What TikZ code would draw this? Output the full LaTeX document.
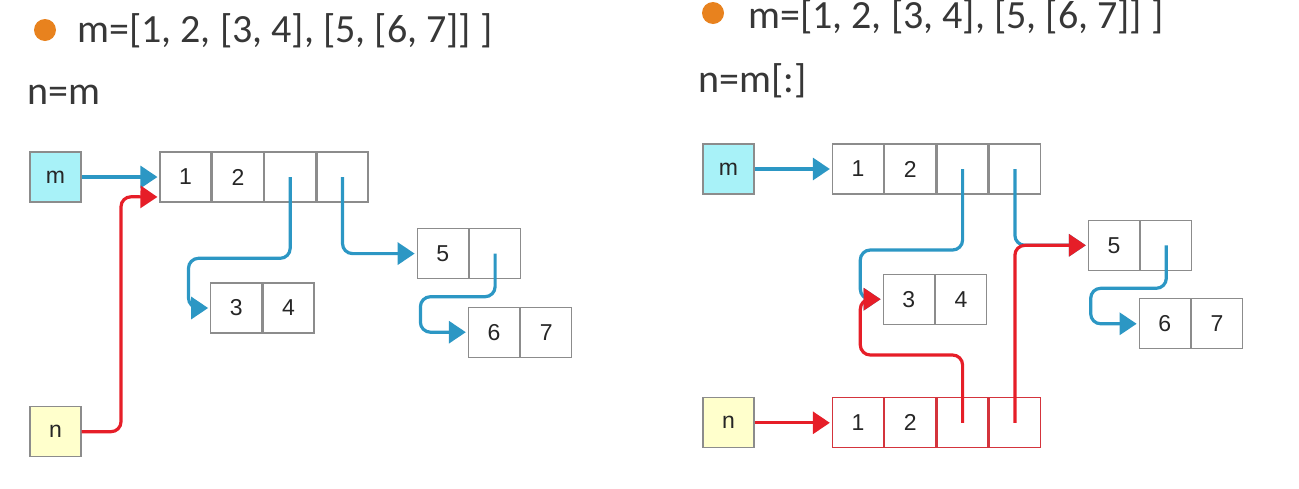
\documentclass[tikz,border=0pt]{standalone}
\usepackage{fontspec}
\usepackage{tikz}
\usetikzlibrary{arrows.meta,positioning}
\setmainfont{Carlito}
\newfontfamily\cellfont{Liberation Sans}
\definecolor{PtrBlue}{RGB}{44,151,196}
\definecolor{PtrRed}{RGB}{230,30,40}
\definecolor{CellGray}{RGB}{140,140,140}
\definecolor{VarCyan}{RGB}{168,242,248}
\definecolor{VarYellow}{RGB}{255,255,204}
\definecolor{BulletOrange}{RGB}{232,130,30}
\definecolor{TextDark}{RGB}{55,55,55}
\tikzset{
  cell/.style={draw=CellGray, line width=1.3pt, minimum width=51pt, minimum height=50pt, inner sep=0pt, font=\cellfont\fontsize{23}{27}\selectfont, text=black!85},
  redcell/.style={cell, draw=PtrRed!80!CellGray},
  head/.style={anchor=base west, inner sep=0pt, text=TextDark, font=\fontsize{40}{44}\selectfont},
  ptr/.style={-{Triangle[length=17pt,width=22pt]}, line width=3.2pt, rounded corners=10pt, shorten >=2pt},
}
\begin{document}
\begin{tikzpicture}[x=1pt, y=-1pt, node distance=0pt]
  \useasboundingbox (0,0) rectangle (1299,488);
  % left: n=m
  \fill[BulletOrange] (45,30) circle (11);
  \node[head] (titleL) at (77,42) {m=[1, 2, [3, 4], [5, [6, 7]] ]};
  \node[head] (assignL) at (27,104) {n=m};
  \node[cell, fill=VarCyan] (mL) at (55.4,177) {m};
  \node[cell, fill=VarYellow] (nL) at (55.4,431.7) {n};
  \node[cell] (a1) at (185.6,177) {1};
  \node[cell, right=of a1] (a2) {2};
  \node[cell, right=of a2] (a3) {};
  \node[cell, right=of a3] (a4) {};
  \node[cell] (b1) at (236.3,308) {3};
  \node[cell, right=of b1] (b2) {4};
  \node[cell] (d1) at (442.8,253.6) {5};
  \node[cell, right=of d1] (d2) {};
  \node[cell] (e1) at (494,332.2) {6};
  \node[cell, right=of e1] (e2) {7};
  \draw[ptr, PtrBlue] (mL.east) -- (a1.west);
  \draw[ptr, PtrRed] (nL.east) -| (121,196.7) -- ([yshift=-20pt]a1.west);
  \draw[ptr, PtrBlue] (a3.center) |- (188.5,258.3) |- (b1.west);
  \draw[ptr, PtrBlue] (a4.center) |- (d1.west);
  \draw[ptr, PtrBlue] (d2.center) |- (420.4,296.7) |- (e1.west);
  % right: n=m[:]
  \fill[BulletOrange] (713,13) circle (11);
  \node[head] (titleR) at (748,28) {m=[1, 2, [3, 4], [5, [6, 7]] ]};
  \node[head] (assignR) at (698,92) {n=m[:]};
  \node[cell, fill=VarCyan] (mR) at (728.5,169) {m};
  \node[cell, fill=VarYellow] (nR) at (728.5,422.8) {n};
  \node[cell] (p1) at (858,169) {1};
  \node[cell, right=of p1] (p2) {2};
  \node[cell, right=of p2] (p3) {};
  \node[cell, right=of p3] (p4) {};
  \node[redcell] (c1) at (858,422.8) {1};
  \node[redcell, right=of c1] (c2) {2};
  \node[redcell, right=of c2] (c3) {};
  \node[redcell, right=of c3] (c4) {};
  \node[cell] (q1) at (908.8,299.2) {3};
  \node[cell, right=of q1] (q2) {4};
  \node[cell] (r1) at (1114,245.3) {5};
  \node[cell, right=of r1] (r2) {};
  \node[cell] (s1) at (1164.8,323.8) {6};
  \node[cell, right=of s1] (s2) {7};
  \draw[ptr, PtrBlue] (mR.east) -- (p1.west);
  \draw[ptr, PtrRed] (nR.east) -- (c1.west);
  \draw[ptr, PtrBlue] (p3.center) |- (860.3,250) |- (q1.west);
  \draw[ptr, PtrBlue] (p4.center) |- (r1.west);
  \draw[ptr, PtrBlue] (r2.center) |- (1090.7,288.3) |- (s1.west);
  \draw[ptr, PtrRed] (c3.center) |- (860.3,355) |- (q1.west);
  \draw[ptr, PtrRed] (c4.center) |- (r1.west);
\end{tikzpicture}
\end{document}
